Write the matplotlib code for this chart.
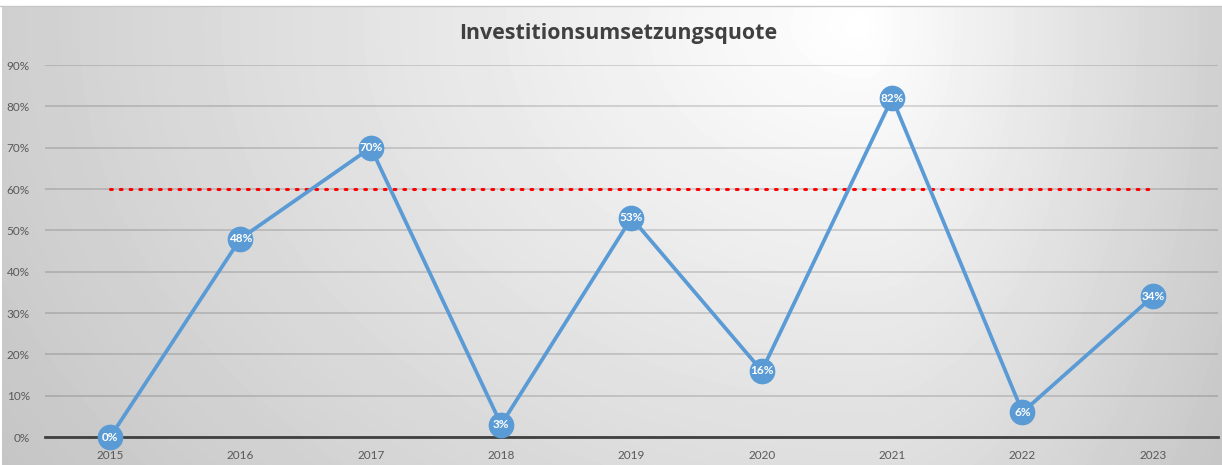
import numpy as np
import matplotlib.pyplot as plt
from matplotlib.ticker import PercentFormatter

years = ["2015", "2016", "2017", "2018", "2019", "2020", "2021", "2022", "2023"]
quote = [0, 48, 70, 3, 53, 16, 82, 6, 34]
target = [60] * len(years)
title = "Investitionsumsetzungsquote"

plt.rcParams['font.family'] = ['Lato', 'DejaVu Sans']

W, H = 1222, 465
fig = plt.figure(figsize=(W / 100, H / 100), dpi=100)
fig.patch.set_facecolor('white')

# radial gray background like the Excel chart area
bg = fig.add_axes([0.002, 0, 0.998, 1 - 6 / H])
bg.set_axis_off()
yy, xx = np.mgrid[0:460, 0:1220]
cx, cy = 860, 20
sx = np.where(xx < cx, 1000.0, 430.0)
r = np.sqrt(((xx - cx) / sx) ** 2 + ((yy - cy) / 750.0) ** 2)
val = np.clip(255 - 56 * r, 195, 255) / 255
bg.imshow(val, cmap='gray', vmin=0, vmax=1, aspect='auto', interpolation='bilinear')

x = np.arange(len(years))
ax = fig.add_axes([45 / W, (H - 437) / H, (1218 - 45) / W, (437 - 65) / H])
ax.patch.set_alpha(0)
ax.set_xlim(-0.5, len(years) - 0.5)
ax.set_ylim(0, 90)
ax.set_yticks(range(0, 91, 10))
ax.yaxis.set_major_formatter(PercentFormatter(decimals=0))
ax.set_xticks(x)
ax.set_xticklabels(years)
ax.tick_params(length=0, labelsize=8.5, colors='#595959')
ax.tick_params(axis='x', pad=9)
ax.tick_params(axis='y', pad=11)
for s in ax.spines.values():
    s.set_visible(False)
ax.grid(axis='y', color='black', alpha=0.16, lw=1.2)
ax.axhline(0, color='#404040', lw=2, zorder=2, clip_on=False)

ax.plot(x, target, color='#ff0000', lw=2.2, ls=(0, (0.6, 2.6)), dash_capstyle='round', zorder=3)
ax.plot(x, quote, color='#5b9bd5', lw=2.7, marker='o', ms=17.5, mec='#5b9bd5', zorder=4, clip_on=False)
for xi, v in zip(x, quote):
    ax.text(xi, v, f"{v}%", ha='center', va='center', color='white', fontsize=8.5,
            fontweight='bold', zorder=5)

fig.text(0.506, 1 - 33 / H, title, ha='center', va='center', fontsize=15.4,
         fontweight='bold', color='#404040', family=['Open Sans', 'DejaVu Sans'])
fig.add_artist(plt.Line2D([0, 1], [1 - 6 / H, 1 - 6 / H], color='#c8c8c8', lw=1))

fig.savefig('out.png', dpi=100)
